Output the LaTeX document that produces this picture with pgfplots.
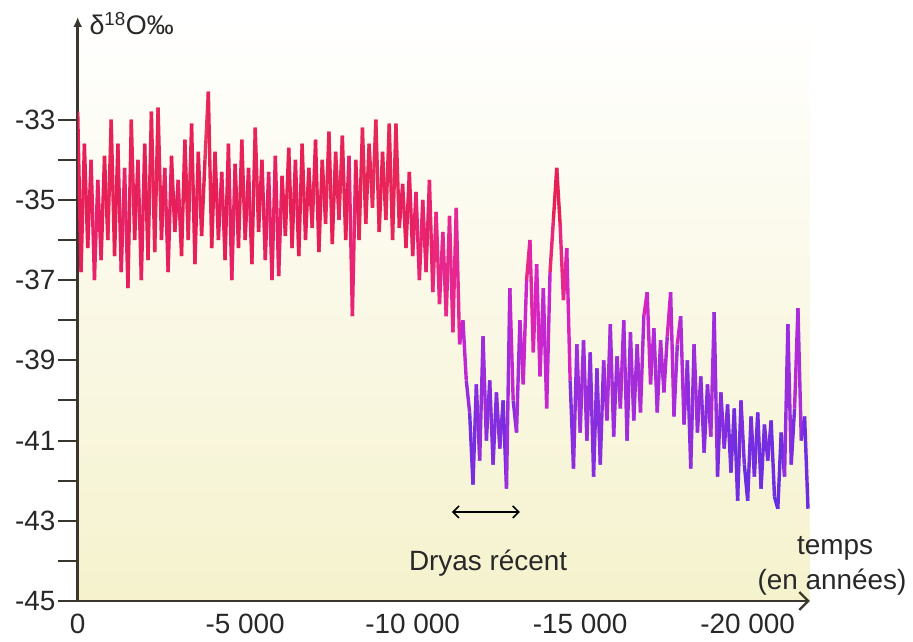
\documentclass[border=0pt]{standalone}
\usepackage{fontspec}
\setmainfont{Liberation Sans}
\usepackage{pgfplots}
\pgfplotsset{compat=1.18}
\usetikzlibrary{arrows.meta}
\definecolor{axisgray}{RGB}{58,54,46}
\definecolor{txtgray}{RGB}{40,40,40}
\definecolor{bgbot}{RGB}{245,242,205}
\definecolor{bgmid}{RGB}{249,247,222}

\begin{document}
\begin{tikzpicture}[font=\fontsize{28}{32}\selectfont, text=txtgray]
\path[use as bounding box] (0bp,0bp) rectangle (913bp,642bp);
\begin{axis}[
    at={(77.7bp,41bp)}, anchor=south west,
    scale only axis, width=732.3bp, height=584bp,
    x dir=reverse,
    xmin=-21860, xmax=0, ymin=-45, ymax=-30.44,
    axis background/.style={bottom color=bgbot, middle color=bgmid, top color=white},
    axis lines=left,
    axis line style={axisgray, line width=2.4bp},
    x axis line style={{Straight Barb[length=9bp,width=18bp,line width=2.4bp]}-},
    y axis line style={-{Latex[length=10bp,width=9bp]}},
    scaled x ticks=false,
    xtick={0,-5000,-10000,-15000,-20000},
    xticklabels={0,-5 000,-10 000,-15 000,-20 000},
    ytick={-45,-43,-41,-39,-37,-35,-33},
    yticklabels={-45,-43,-41,-39,-37,-35,-33},
    minor ytick={-44,-42,-40,-38,-36,-34},
    tick align=outside,
    major tick length=20bp, minor tick length=20bp,
    y tick style={axisgray, line width=2bp},
    x tick style={draw=none},
    yticklabel style={inner sep=1bp, xshift=-1bp},
    xticklabel style={inner sep=1bp, yshift=8bp},
    point meta min=-43, point meta max=-33,
    colormap={dryas}{rgb255(0cm)=(85,45,225) rgb255(4cm)=(120,45,225)
        rgb255(7cm)=(165,45,220) rgb255(10cm)=(215,35,200)
        rgb255(13cm)=(234,40,130) rgb255(16cm)=(230,30,85)
        rgb255(20cm)=(236,60,100)},
]
\addplot[mesh, point meta=y, shader=flat, line width=3.4bp, line join=round] coordinates {
(0,-32.8) (-100,-36.8) (-200,-33.6) (-300,-36.2) (-400,-34.0)
(-500,-37.0) (-600,-34.5) (-700,-36.5) (-800,-33.9) (-900,-36.0)
(-1000,-33.0) (-1100,-36.4) (-1200,-33.6) (-1300,-36.8) (-1400,-34.2)
(-1500,-37.2) (-1600,-33.0) (-1700,-36.0) (-1800,-34.0) (-1900,-37.0)
(-2000,-33.6) (-2100,-36.5) (-2200,-32.8) (-2300,-36.3) (-2400,-32.7)
(-2500,-36.0) (-2600,-34.2) (-2700,-36.8) (-2800,-33.9) (-2900,-35.8)
(-3000,-34.5) (-3100,-36.4) (-3200,-33.5) (-3300,-36.0) (-3400,-33.1)
(-3500,-36.6) (-3600,-33.8) (-3700,-35.9) (-3800,-34.0) (-3900,-32.3)
(-4000,-36.2) (-4100,-33.8) (-4200,-36.0) (-4300,-34.3) (-4400,-36.5)
(-4500,-33.6) (-4600,-37.0) (-4700,-34.1) (-4800,-36.2) (-4900,-33.5)
(-5000,-36.0) (-5100,-34.2) (-5200,-36.6) (-5300,-33.2) (-5400,-35.8)
(-5500,-34.0) (-5600,-36.5) (-5700,-34.3) (-5800,-37.0) (-5900,-33.9)
(-6000,-36.9) (-6100,-34.4) (-6200,-35.9) (-6300,-33.7) (-6400,-36.2)
(-6500,-34.0) (-6600,-36.4) (-6700,-33.6) (-6800,-36.0) (-6900,-34.2)
(-7000,-35.7) (-7100,-33.5) (-7200,-36.3) (-7300,-34.0) (-7400,-35.6)
(-7500,-33.3) (-7600,-36.1) (-7700,-33.8) (-7800,-35.5) (-7900,-33.4)
(-8000,-36.0) (-8100,-33.9) (-8200,-37.9) (-8300,-34.0) (-8400,-36.0)
(-8500,-33.2) (-8600,-35.6) (-8700,-33.6) (-8800,-35.2) (-8900,-33.0)
(-9000,-35.8) (-9100,-33.8) (-9200,-35.5) (-9300,-33.1) (-9400,-36.0)
(-9500,-33.1) (-9600,-35.7) (-9700,-34.6) (-9800,-36.2) (-9900,-34.3)
(-10000,-36.4) (-10100,-34.8) (-10200,-37.0) (-10300,-35.0) (-10400,-36.8)
(-10500,-34.5) (-10600,-37.3) (-10700,-35.3) (-10800,-37.6) (-10900,-35.8)
(-11000,-37.9) (-11100,-35.4) (-11200,-38.3) (-11300,-35.2) (-11400,-38.6)
(-11500,-38.0) (-11600,-39.5) (-11700,-40.3) (-11800,-42.1) (-11900,-39.6)
(-12000,-41.5) (-12100,-38.4) (-12200,-41.0) (-12300,-39.5) (-12400,-41.6)
(-12500,-39.8) (-12600,-41.2) (-12700,-40.0) (-12800,-42.2) (-12900,-37.2)
(-13000,-40.0) (-13100,-40.8) (-13200,-38.0) (-13300,-39.6) (-13400,-37.0)
(-13500,-36.0) (-13600,-38.8) (-13700,-36.6) (-13800,-39.4) (-13900,-37.2)
(-14000,-40.2) (-14100,-36.8) (-14200,-35.5) (-14300,-34.2) (-14400,-35.6)
(-14500,-37.5) (-14600,-36.2) (-14700,-39.5) (-14800,-41.7) (-14900,-38.6)
(-15000,-40.8) (-15100,-38.5) (-15200,-41.0) (-15300,-38.8) (-15400,-41.9)
(-15500,-39.2) (-15600,-41.6) (-15700,-39.0) (-15800,-40.5) (-15900,-38.1)
(-16000,-40.9) (-16100,-38.9) (-16200,-40.2) (-16300,-38.0) (-16400,-41.0)
(-16500,-38.3) (-16600,-40.5) (-16700,-38.6) (-16800,-40.3) (-16900,-37.9)
(-17000,-37.3) (-17100,-39.6) (-17200,-38.2) (-17300,-40.3) (-17400,-38.5)
(-17500,-39.8) (-17600,-38.4) (-17700,-37.3) (-17800,-40.4) (-17900,-38.6)
(-18000,-37.9) (-18100,-40.6) (-18200,-39.0) (-18300,-41.7) (-18400,-38.6)
(-18500,-40.8) (-18600,-39.4) (-18700,-41.3) (-18800,-39.6) (-18900,-40.9)
(-19000,-37.8) (-19100,-41.9) (-19200,-39.8) (-19300,-41.2) (-19400,-40.1)
(-19500,-41.8) (-19600,-40.2) (-19700,-42.5) (-19800,-40.0) (-19900,-41.6)
(-20000,-42.5) (-20100,-40.4) (-20200,-41.9) (-20300,-40.3) (-20400,-42.2)
(-20500,-40.6) (-20600,-41.5) (-20700,-40.5) (-20800,-42.4) (-20900,-42.7)
(-21000,-40.8) (-21100,-41.9) (-21200,-38.1) (-21300,-41.6) (-21400,-40.2)
(-21500,-37.7) (-21600,-41.0) (-21700,-40.4) (-21800,-42.7)
};
\pgfplotsinvokeforeach{-5000,-10000,-15000,-20000}{
    \draw[axisgray, line width=3bp] (axis cs:#1,-45) -- ++(0bp,-8bp);
}
\draw[{Straight Barb[length=6bp,width=12bp]}-{Straight Barb[length=6bp,width=12bp]}, black, line width=1.6bp]
    (axis cs:-11170,-42.78) -- (axis cs:-13200,-42.78);
\node[anchor=base] at (axis cs:-12250,-44.25) {Dryas récent};
\end{axis}
\node[anchor=base west] at (86bp,607bp) {\fontsize{27}{30}\selectfont δ\textsuperscript{18}O‰};
\node[anchor=base] at (835bp,87bp) {temps};
\node[anchor=base] at (832bp,52bp) {(en années)};
\end{tikzpicture}
\end{document}
